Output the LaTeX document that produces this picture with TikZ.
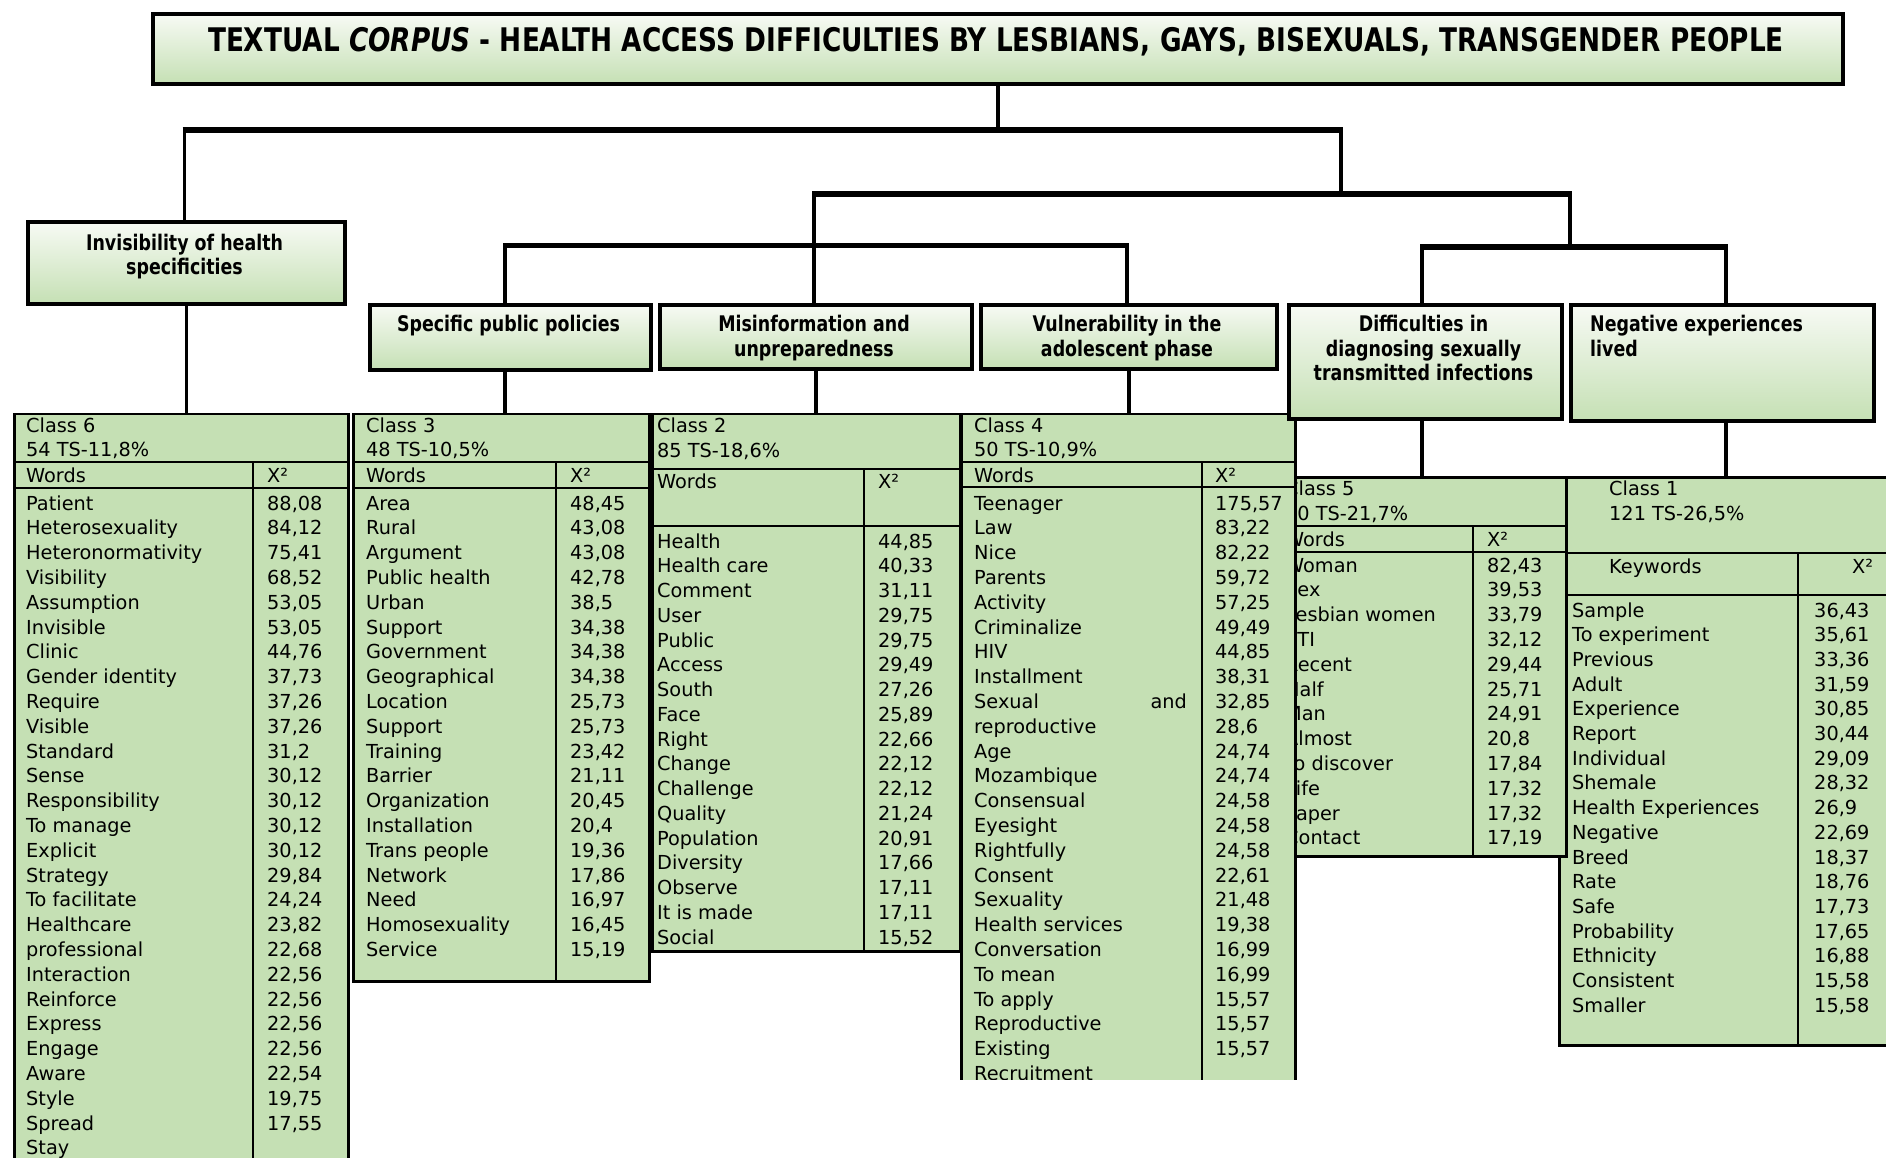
\documentclass[tikz,border=0pt]{standalone}
\usepackage{fontspec}
\newfontfamily\tfont{DejaVu Sans}
\newfontfamily\hfont{DejaVu Sans}[FakeStretch=0.81]
\definecolor{tgreen}{RGB}{197,224,180}
\definecolor{btop}{RGB}{247,250,244}
\definecolor{bbot}{RGB}{197,224,180}
\begin{document}
\begin{tikzpicture}[x=1pt,y=-1pt,
  hline/.style={line width=5.5pt},
  vline/.style={line width=3.8pt},
  tbox/.style={draw, line width=4pt, top color=btop, bottom color=bbot, inner sep=0pt, anchor=north west},
  lbl/.style={inner sep=0pt, font=\hfont\bfseries\fontsize{21.5}{24.5}\selectfont, align=center, anchor=north},
  tab/.style={draw, line width=2.5pt, fill=tgreen, inner sep=0pt, anchor=north west},
  tline/.style={line width=2pt},
  cell/.style={inner sep=0pt, anchor=base west, font=\tfont\fontsize{19.3}{24}\selectfont},
]
\useasboundingbox (0,0) rectangle (1886,1158);
\fill[white] (0,0) rectangle (1886,1158);
\clip (0,0) rectangle (1886,1158);

% ---------------- Class 6 ----------------
\node[tab, minimum width=334, minimum height=770] (tab6) at (13,412.5) {};
\draw[tline] (13,462) -- (347,462) (13,488) -- (347,488) (253,462) -- (253,1180);
\node[cell] (c6h1) at (26,432) {Class 6};
\node[cell] (c6h2) at (26,456.5) {54 TS-11,8\%};
\node[cell] (c6hw) at (26,482) {Words};
\node[cell] (c6hx) at (267,482) {X²};
\foreach \w/\v [count=\i from 0] in {Patient/{88,08},Heterosexuality/{84,12},Heteronormativity/{75,41},Visibility/{68,52},Assumption/{53,05},Invisible/{53,05},Clinic/{44,76},Gender identity/{37,73},Require/{37,26},Visible/{37,26},Standard/{31,2},Sense/{30,12},Responsibility/{30,12},To manage/{30,12},Explicit/{30,12},Strategy/{29,84},To facilitate/{24,24},Healthcare/{23,82},professional/{22,68},Interaction/{22,56},Reinforce/{22,56},Express/{22,56},Engage/{22,56},Aware/{22,54},Style/{19,75},Spread/{17,55},Stay/{}}{
  \node[cell] (c6w\i) at (26,{510+24.8*\i}) {\w};
  \node[cell] (c6v\i) at (267,{510+24.8*\i}) {\v};
}

% ---------------- Class 3 ----------------
\node[tab, minimum width=296, minimum height=567.5] (tab3) at (352,412.5) {};
\draw[tline] (352,462) -- (648,462) (352,488) -- (648,488) (556,462) -- (556,980);
\node[cell] (c3h1) at (366,432) {Class 3};
\node[cell] (c3h2) at (366,456.5) {48 TS-10,5\%};
\node[cell] (c3hw) at (366,482) {Words};
\node[cell] (c3hx) at (570,482) {X²};
\foreach \w/\v [count=\i from 0] in {Area/{48,45},Rural/{43,08},Argument/{43,08},Public health/{42,78},Urban/{38,5},Support/{34,38},Government/{34,38},Geographical/{34,38},Location/{25,73},Support/{25,73},Training/{23,42},Barrier/{21,11},Organization/{20,45},Installation/{20,4},Trans people/{19,36},Network/{17,86},Need/{16,97},Homosexuality/{16,45},Service/{15,19}}{
  \node[cell] (c3w\i) at (366,{510+24.8*\i}) {\w};
  \node[cell] (c3v\i) at (570,{510+24.8*\i}) {\v};
}

% ---------------- Class 2 ----------------
\node[tab, minimum width=308, minimum height=537.5] (tab2) at (651,412.5) {};
\draw[tline] (651,469) -- (959,469) (651,526) -- (959,526) (864,469) -- (864,950);
\node[cell] (c2h1) at (657,432) {Class 2};
\node[cell] (c2h2) at (657,457) {85 TS-18,6\%};
\node[cell] (c2hw) at (657,488) {Words};
\node[cell] (c2hx) at (878,488) {X²};
\foreach \w/\v [count=\i from 0] in {Health/{44,85},Health care/{40,33},Comment/{31,11},User/{29,75},Public/{29,75},Access/{29,49},South/{27,26},Face/{25,89},Right/{22,66},Change/{22,12},Challenge/{22,12},Quality/{21,24},Population/{20,91},Diversity/{17,66},Observe/{17,11},It is made/{17,11},Social/{15,52}}{
  \node[cell] (c2w\i) at (657,{548+24.75*\i}) {\w};
  \node[cell] (c2v\i) at (878,{548+24.75*\i}) {\v};
}

% ---------------- Class 1 ----------------
\node[tab, minimum width=340, minimum height=568] (tab1) at (1558,476) {};
\draw[tline] (1558,553) -- (1890,553) (1558,595) -- (1890,595) (1798,553) -- (1798,1044);
\node[cell] (c1h1) at (1609,495) {Class 1};
\node[cell] (c1h2) at (1609,520.5) {121 TS-26,5\%};
\node[cell] (c1hw) at (1609,573.5) {Keywords};
\node[cell] (c1hx) at (1852,573.5) {X²};
\foreach \w/\v [count=\i from 0] in {Sample/{36,43},To experiment/{35,61},Previous/{33,36},Adult/{31,59},Experience/{30,85},Report/{30,44},Individual/{29,09},Shemale/{28,32},Health Experiences/{26,9},Negative/{22,69},Breed/{18,37},Rate/{18,76},Safe/{17,73},Probability/{17,65},Ethnicity/{16,88},Consistent/{15,58},Smaller/{15,58}}{
  \node[cell] (c1w\i) at (1572,{617+24.7*\i}) {\w};
  \node[cell] (c1v\i) at (1814,{617+24.7*\i}) {\v};
}

% ---------------- Class 5 ----------------
\node[tab, minimum width=294, minimum height=379] (tab5) at (1271,476) {};
\draw[tline] (1271,526) -- (1565,526) (1271,552) -- (1565,552) (1473,526) -- (1473,855);
\node[cell] (c5h1) at (1285,495) {Class 5};
\node[cell] (c5h2) at (1285,520.5) {90 TS-21,7\%};
\node[cell] (c5hw) at (1285,546) {Words};
\node[cell] (c5hx) at (1487,546) {X²};
\foreach \w/\v [count=\i from 0] in {Woman/{82,43},Sex/{39,53},Lesbian women/{33,79},STI/{32,12},Recent/{29,44},Half/{25,71},Man/{24,91},Almost/{20,8},To discover/{17,84},Life/{17,32},Paper/{17,32},Contact/{17,19}}{
  \node[cell] (c5w\i) at (1285,{572+24.8*\i}) {\w};
  \node[cell] (c5v\i) at (1487,{572+24.8*\i}) {\v};
}

% ---------------- Class 4 (clipped at bottom) ----------------
\begin{scope}
\clip (940,400) rectangle (1310,1079);
\node[tab, minimum width=334, minimum height=700] (tab4) at (960,412.5) {};
\draw[tline] (960,462) -- (1294,462) (960,487) -- (1294,487) (1202,462) -- (1202,1100);
\node[cell] (c4h1) at (974,432) {Class 4};
\node[cell] (c4h2) at (974,456.5) {50 TS-10,9\%};
\node[cell] (c4hw) at (974,482) {Words};
\node[cell] (c4hx) at (1215,482) {X²};
\foreach \w/\v [count=\i from 0] in {Teenager/{175,57},Law/{83,22},Nice/{82,22},Parents/{59,72},Activity/{57,25},Criminalize/{49,49},HIV/{44,85},Installment/{38,31},Sexual/{32,85},reproductive/{28,6},Age/{24,74},Mozambique/{24,74},Consensual/{24,58},Eyesight/{24,58},Rightfully/{24,58},Consent/{22,61},Sexuality/{21,48},Health services/{19,38},Conversation/{16,99},To mean/{16,99},To apply/{15,57},Reproductive/{15,57},Existing/{15,57},Recruitment/{}}{
  \node[cell] (c4w\i) at (974,{510+24.8*\i}) {\w};
  \node[cell] (c4v\i) at (1215,{510+24.8*\i}) {\v};
}
\node[cell, anchor=base east] (c4and) at (1187,{510+24.8*8}) {and};
\end{scope}

% ---------------- Title and category boxes ----------------
\node[tbox, minimum width=1690, minimum height=70] (T) at (151,12) {};
\node[inner sep=0pt, anchor=base, font=\hfont\bfseries\fontsize{32.5}{36}\selectfont] (Ttext) at (996,52)
  {TEXTUAL \textit{CORPUS} - HEALTH ACCESS DIFFICULTIES BY LESBIANS, GAYS, BISEXUALS, TRANSGENDER PEOPLE};

\node[tbox, minimum width=317, minimum height=82] (B6) at (26,220) {};
\node[tbox, minimum width=281, minimum height=65] (B3) at (368,303) {};
\node[tbox, minimum width=312, minimum height=64] (B2) at (658,303) {};
\node[tbox, minimum width=296, minimum height=64] (B4) at (979,303) {};
\node[tbox, minimum width=273, minimum height=114] (B5) at (1287,303) {};
\node[tbox, minimum width=303, minimum height=116] (B1) at (1569,303) {};

\node[lbl] (L6) at (184.5,233.7) {Invisibility of health\\specificities};
\node[lbl] (L3) at (508.5,315) {Specific public policies};
\node[lbl] (L2) at (814,315) {Misinformation and\\unpreparedness};
\node[lbl] (L4) at (1127,315) {Vulnerability in the\\adolescent phase};
\node[lbl] (L5) at (1423.5,315) {Difficulties in\\diagnosing sexually\\transmitted infections};
\node[lbl, align=left, anchor=north west] (L1) at (1590,315) {Negative experiences\\lived};

% ---------------- Tree connectors ----------------
\coordinate (h1L) at (184.5,130);
\coordinate (h1R) at (1341,130);
\coordinate (h2L) at (814,194);
\coordinate (h2R) at (1570,194);
\coordinate (h3L) at (505,245.5);
\coordinate (h3R) at (1127,245.5);
\coordinate (h4L) at (1422,247);
\coordinate (h4R) at (1726,247);

\draw[vline] (T.south) -- (T.south |- h1L);
\draw[hline] ([xshift=-1.9pt]h1L) -- ([xshift=1.9pt]h1R);
\draw[vline] (h1L) -- (h1L |- B6.north);
\draw[vline] (h1R) -- (h1R |- h2L);
\draw[hline] ([xshift=-1.9pt]h2L) -- ([xshift=1.9pt]h2R);
\draw[vline] (h2L) -- (h2L |- B2.north);
\draw[hline] ([xshift=-1.9pt]h3L) -- ([xshift=1.9pt]h3R);
\draw[vline] (h3L) -- (h3L |- B3.north);
\draw[vline] (h3R) -- (h3R |- B4.north);
\draw[vline] (h2R) -- (h2R |- h4L);
\draw[hline] ([xshift=-1.9pt]h4L) -- ([xshift=1.9pt]h4R);
\draw[vline] (h4L) -- (h4L |- B5.north);
\draw[vline] (h4R) -- (h4R |- B1.north);

\draw[vline] (B6.south) -- (B6.south |- tab6.north);
\draw[vline] (h3L |- B3.south) -- (h3L |- tab3.north);
\draw[vline] (B2.south) -- (B2.south |- tab2.north);
\draw[vline] (B4.south) -- (B4.south |- tab4.north);
\draw[vline] (h4L |- B5.south) -- (h4L |- tab5.north);
\draw[vline] (h4R |- B1.south) -- (h4R |- tab1.north);
\end{tikzpicture}
\end{document}
